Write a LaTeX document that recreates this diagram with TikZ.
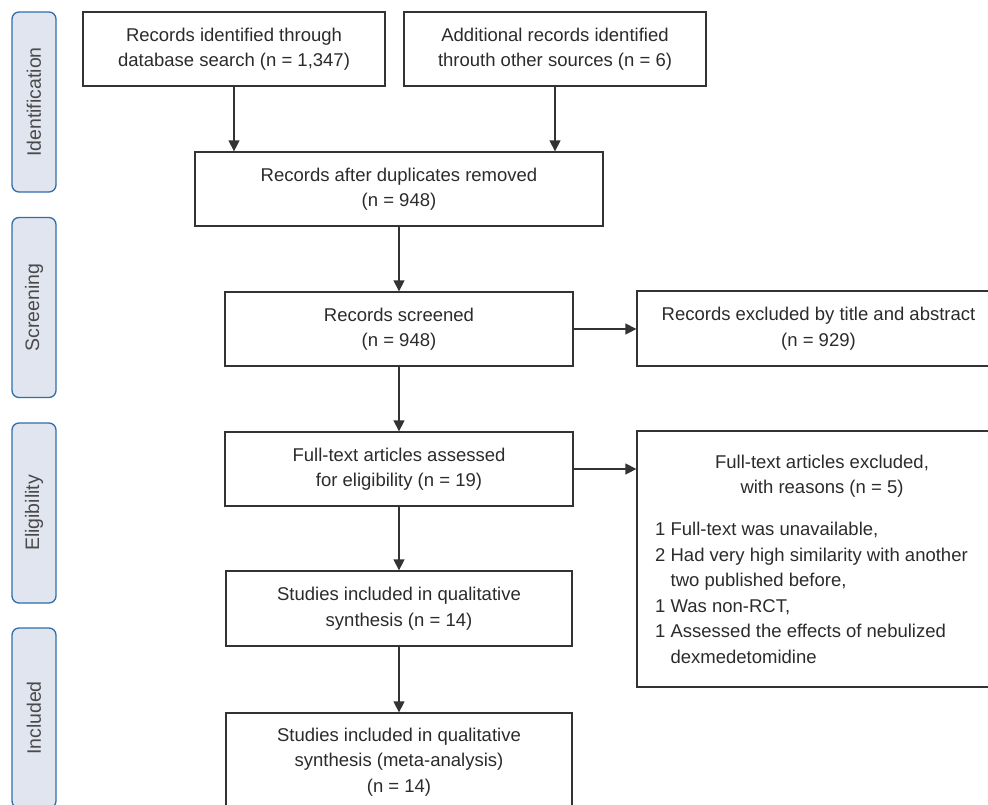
\documentclass[tikz,border=0pt]{standalone}
\usepackage{fontspec}
\setmainfont{Liberation Sans}
\usetikzlibrary{arrows.meta}
\definecolor{linec}{HTML}{333333}
\definecolor{textc}{HTML}{2B2B2B}
\definecolor{sidefill}{HTML}{E1E5F0}
\definecolor{sidedraw}{HTML}{2F6EAB}
\definecolor{sidetext}{HTML}{4A4A4A}
\begin{document}
\begin{tikzpicture}[x=1pt,y=-1pt,
  every node/.style={font=\fontsize{18.5}{25.5}\selectfont, text=textc},
  box/.style={draw=linec, line width=1.3pt, rectangle, align=center, inner sep=0pt},
  side/.style={draw=sidedraw, fill=sidefill, line width=1.3pt, rounded corners=7pt,
     minimum width=44pt, minimum height=180pt, inner sep=0pt},
  sidelabel/.style={rotate=90, text=sidetext, font=\fontsize{19.5}{24}\selectfont},
  arr/.style={draw=linec, line width=1.3pt, -{Triangle[length=11pt,width=11pt]}},
  plain/.style={inner sep=0pt}
]
\useasboundingbox (0,0) rectangle (988,804);
\clip (0,0) rectangle (988,804);

% side labels
\node[side] (s1) at (34,102) {};
\node[sidelabel] (s1t) at (s1.center) {Identification};
\node[side] (s2) at (34,307.5) {};
\node[sidelabel] (s2t) at (s2.center) {Screening};
\node[side] (s3) at (34,513) {};
\node[sidelabel] (s3t) at (s3.center) {Eligibility};
\node[side] (s4) at (34,718) {};
\node[sidelabel] (s4t) at (s4.center) {Included};

% main boxes
\node[box, minimum width=302pt, minimum height=74pt] (b1) at (234,49)
  {Records identified through\\database search (n = 1,347)};
\node[box, minimum width=302pt, minimum height=74pt] (b2) at (555,49)
  {Additional records identified\\throuth other sources (n = 6)};
\node[box, minimum width=408pt, minimum height=74pt] (b3) at (399,189)
  {Records after duplicates removed\\(n = 948)};
\node[box, minimum width=348pt, minimum height=74pt] (b4) at (399,329)
  {Records screened\\(n = 948)};
\node[box, minimum width=348pt, minimum height=74pt] (b5) at (399,469)
  {Full-text articles assessed\\for eligibility (n = 19)};
\node[box, minimum width=363pt, minimum height=75pt] (b6) at (818.5,328.5)
  {Records excluded by title and abstract\\(n = 929)};
\node[box, minimum width=363pt, minimum height=256pt] (b7) at (818.5,559) {};
\node[plain, align=center] (b7t) at (822,476)
  {Full-text articles excluded,\\with reasons (n = 5)};
\node[plain, align=left, anchor=north west] (b7l) at (655,522)
  {1 Full-text was unavailable,\\
   2 Had very high similarity with another\\
   \hphantom{2 }two published before,\\
   1 Was non-RCT,\\
   1 Assessed the effects of nebulized\\
   \hphantom{1 }dexmedetomidine};
\node[box, minimum width=346pt, minimum height=75pt] (b8) at (399,608.5)
  {Studies included in qualitative\\synthesis (n = 14)};
\node[box, minimum width=346pt, minimum height=98pt] (b9) at (399,762)
  {Studies included in qualitative\\synthesis (meta-analysis)\\(n = 14)};

% connectors
\draw[arr] (b1.south) -- (b1.south |- b3.north);
\draw[arr] (b2.south) -- (b2.south |- b3.north);
\draw[arr] (b3.south) -- (b4.north);
\draw[arr] (b4.east) -- (b4.east -| b6.west);
\draw[arr] (b4.south) -- (b5.north);
\draw[arr] (b5.east) -- (b5.east -| b7.west);
\draw[arr] (b5.south) -- (b8.north);
\draw[arr] (b8.south) -- (b9.north);
\end{tikzpicture}
\end{document}
